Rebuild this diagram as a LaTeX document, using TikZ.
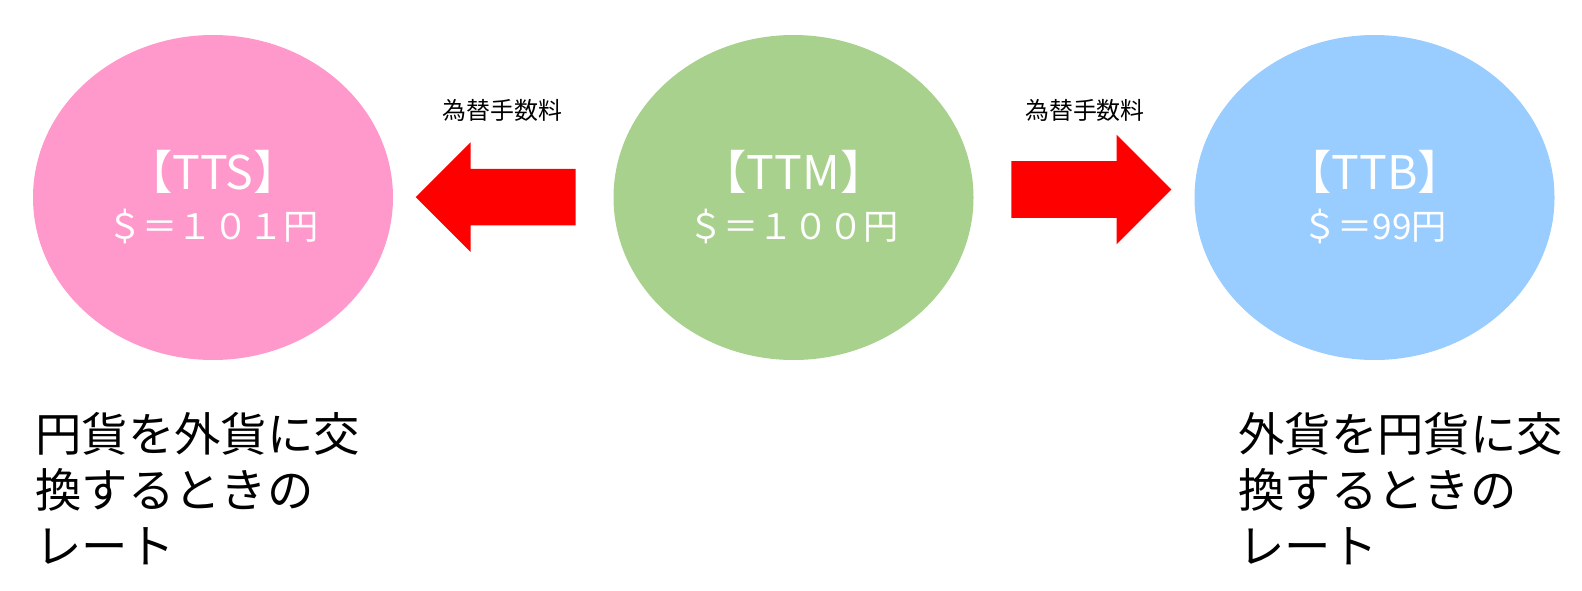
\documentclass[tikz,border=0pt]{standalone}
\usepackage{fontspec}
\setmainfont{Noto Sans CJK JP}
\usetikzlibrary{shapes.geometric,shapes.arrows}
\definecolor{ttspink}{HTML}{FF99CC}
\definecolor{ttmgreen}{HTML}{A9D18E}
\definecolor{ttbblue}{HTML}{99CCFF}

\begin{document}
\begin{tikzpicture}[
    rate/.style={ellipse, minimum width=9cm, minimum height=8.125cm, inner sep=0pt, draw=none},
    ratetitle/.style={anchor=base, inner sep=0pt, text=white, font=\fontsize{33}{40}\selectfont},
    ratevalue/.style={anchor=base, inner sep=0pt, text=white, font=\fontsize{25}{30}\selectfont},
    fatarrow/.style={single arrow, fill=red, draw=none, anchor=tail, minimum height=4cm, minimum width=0pt, inner xsep=0pt, inner ysep=0.7cm, single arrow head extend=0.6625cm},
    fee/.style={inner sep=0pt, font=\fontsize{17}{20}\selectfont},
    note/.style={anchor=north west, align=left, inner sep=0pt, font=\fontsize{33}{39.8}\selectfont}
  ]
  % Page size
  \useasboundingbox (0,0) rectangle (39.55,-14.75);

  % Rates
  \foreach \nm/\col/\x/\title/\val in {tts/ttspink/5.325/【TTS】/＄＝１０１円, ttm/ttmgreen/19.8375/【TTM】/＄＝１００円, ttb/ttbblue/34.3625/【TTB】/＄＝99円} {
    \node[rate, fill=\col] (\nm) at (\x,-4.9375) {};
    \node[ratetitle] (\nm-title) at ([yshift=0.19cm]\nm.center) {\title};
    \node[ratevalue] (\nm-value) at ([yshift=-1.06cm]\nm.center) {\val};
  }

  % Arrows
  \node[fatarrow, shape border rotate=180] (sellarrow) at (14.4,-4.93) {};
  \node[fatarrow] (buyarrow) at (25.275,-4.7375) {};
  \node[fee] (sellfee) at (12.56,-2.75) {為替手数料};
  \node[fee] (buyfee) at (27.125,-2.75) {為替手数料};

  % Notes
  \node[note] (ttsnote) at (0.875,-10.3) {円貨を外貨に交\\換するときの\\レート};
  \node[note] (ttbnote) at (30.95,-10.3) {外貨を円貨に交\\換するときの\\レート};
\end{tikzpicture}
\end{document}
